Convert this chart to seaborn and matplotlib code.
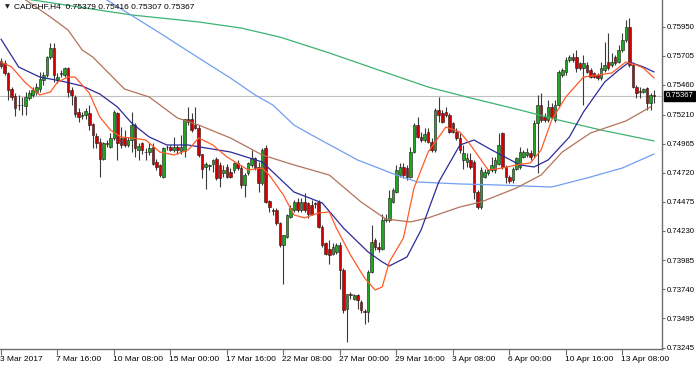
import matplotlib
matplotlib.use("Agg")
import matplotlib.pyplot as plt
import matplotlib.transforms as mtransforms
import numpy as np
import seaborn as sns

# ---------------- candle data (H4 bars, 3 Mar 2017 00:00 .. 14 Apr 2017) ----------------
open_p = [
    .75663, .75647, .75557, .75422, .75368, .75293, .75287, .75281, .75346, .75374,
    .75402, .75422, .75501, .75543, .75697, .75770, .75501, .75551, .75543, .75599,
    .75416, .75360, .75234, .75197, .75206, .75220, .75127, .75026, .74975, .74840,
    .74972, .74939, .75009, .75225, .75009, .75009, .74953, .74995, .75121, .74916,
    .74967, .74896, .74896, .74939, .74812, .74784, .74686, .74933, .74939, .74910,
    .74933, .74905, .74905, .75169, .75169, .75121, .75093, .74877, .74770, .74775,
    .74792, .74840, .74784, .74714, .74770,
    .74729, .74743, .74799, .74757, .74616, .74715, .74785, .74841, .74771, .74630,
    .74925, .74481, .74406, .74406, .74293, .74111, .74181, .74349, .74406, .74476,
    .74406, .74476, .74462, .74448, .74462, .74476, .74265, .74125, .74082, .74040,
    .74054, .74111, .73900, .73577, .73699, .73661, .73689, .73633, .73554, .73549,
    .73886, .74153, .74096, .74082, .74321, .74321, .74476, .74560, .74701, .74771,
    .74757, .74687, .74897, .75122, .75024, .74996, .75066, .74982, .74911, .75249,
    .75220, .75235, .75206, .75136, .75066,
    .75009, .74827, .74812, .74827, .74812, .74560, .74433, .74686, .74714, .74742,
    .74742, .74798, .75051, .74770, .74686, .74658, .74756, .74770, .74855, .74869,
    .74883, .74869, .75136, .75290, .75192, .75164, .75276, .75164, .75290, .75543,
    .75571, .75670, .75698, .75698, .75641, .75599, .75627, .75585, .75557, .75543,
    .75515, .75585, .75655, .75627, .75698, .75655, .75754, .75838, .75951, .75627,
    .75445, .75411, .75403, .75431, .75304, .75379,
]
high_p = [
    .75683, .75669, .75571, .75444, .75388, .75374, .75360, .75402, .75416, .75439,
    .75472, .75571, .75571, .75703, .75810, .75815, .75557, .75585, .75613, .75613,
    .75439, .75374, .75262, .75234, .75262, .75290, .75135, .75051, .75009, .74981,
    .74995, .75051, .75248, .75234, .75107, .75079, .75023, .75234, .75135, .74967,
    .74981, .74925, .74967, .74967, .74840, .74798, .74939, .74953, .74953, .75023,
    .74953, .75037, .75177, .75276, .75220, .75270, .75121, .74882, .74812, .74798,
    .74840, .74854, .74812, .74784, .74798,
    .74757, .74813, .74827, .74785, .74715, .74813, .74911, .74855, .74813, .74925,
    .74954, .74490, .74420, .74420, .74307, .74200, .74377, .74448, .74490, .74504,
    .74504, .74546, .74476, .74490, .74476, .74490, .74279, .74139, .74153, .74125,
    .74125, .74139, .73914, .73703, .73717, .73703, .73703, .73647, .73577, .73900,
    .74279, .74167, .74139, .74377, .74377, .74574, .74588, .74785, .74799, .74799,
    .74785, .74939, .75136, .75192, .75066, .75094, .75094, .75010, .75263, .75361,
    .75249, .75277, .75220, .75150, .75094,
    .75051, .74953, .74883, .74883, .74827, .74574, .74770, .74756, .74756, .74855,
    .74855, .75051, .75065, .74784, .74700, .74770, .74855, .74939, .74911, .74925,
    .74911, .75164, .75374, .75389, .75220, .75332, .75304, .75332, .75585, .75599,
    .75698, .75712, .75726, .75754, .75655, .75712, .75655, .75599, .75571, .75557,
    .75655, .75824, .75894, .75726, .75712, .75796, .75894, .76007, .76021, .75655,
    .75459, .75445, .75431, .75440, .75389, .75416,
]
low_p = [
    .75599, .75543, .75332, .75332, .75197, .75248, .75206, .75206, .75332, .75360,
    .75374, .75402, .75458, .75529, .75675, .75486, .75478, .75529, .75523, .75360,
    .75290, .75191, .75149, .75177, .75177, .75079, .74925, .74925, .74686, .74826,
    .74939, .74925, .74995, .74826, .74925, .74939, .74939, .74896, .74854, .74826,
    .74882, .74826, .74868, .74784, .74742, .74686, .74672, .74910, .74905, .74896,
    .74882, .74877, .74854, .75121, .75065, .75085, .74854, .74672, .74587, .74742,
    .74728, .74658, .74601, .74686, .74672,
    .74673, .74715, .74743, .74588, .74518, .74701, .74771, .74743, .74560, .74616,
    .74462, .74392, .74363, .74279, .74096, .73787, .74167, .74335, .74392, .74392,
    .74392, .74392, .74335, .74363, .74420, .74251, .74096, .74026, .73956, .74026,
    .74040, .73745, .73535, .73296, .73661, .73647, .73577, .73535, .73450, .73464,
    .73872, .74068, .74054, .74068, .74307, .74307, .74462, .74546, .74687, .74673,
    .74658, .74673, .74883, .75010, .74982, .74982, .74968, .74897, .74897, .75150,
    .75136, .75192, .75052, .75052, .74996,
    .74883, .74756, .74770, .74756, .74503, .74419, .74419, .74672, .74700, .74728,
    .74714, .74784, .74756, .74630, .74630, .74630, .74742, .74756, .74841, .74855,
    .74827, .74855, .74714, .75150, .75150, .75150, .75178, .75150, .75276, .75529,
    .75543, .75655, .75655, .75571, .75585, .75290, .75557, .75515, .75515, .75501,
    .75501, .75571, .75585, .75613, .75627, .75641, .75740, .75824, .75613, .75431,
    .75346, .75346, .75389, .75248, .75248, .75307,
]
close_p = [
    .75619, .75562, .75416, .75360, .75262, .75287, .75293, .75354, .75394, .75416,
    .75439, .75506, .75543, .75697, .75767, .75543, .75529, .75557, .75599, .75402,
    .75374, .75214, .75186, .75206, .75239, .75121, .75037, .74967, .74840, .74967,
    .74961, .75009, .75228, .74967, .74953, .74953, .74995, .75121, .74925, .74944,
    .74910, .74891, .74925, .74798, .74770, .74700, .74925, .74939, .74916, .74939,
    .74910, .74933, .75169, .75149, .75079, .75093, .74868, .74756, .74798, .74784,
    .74826, .74672, .74672, .74742, .74686,
    .74687, .74799, .74757, .74616, .74701, .74799, .74841, .74757, .74630, .74911,
    .74476, .74434, .74397, .74293, .74111, .74195, .74363, .74420, .74476, .74406,
    .74476, .74406, .74377, .74377, .74453, .74265, .74111, .74040, .74026, .74096,
    .74111, .73900, .73563, .73703, .73689, .73689, .73647, .73563, .73549, .73886,
    .74139, .74096, .74077, .74321, .74330, .74504, .74574, .74743, .74771, .74701,
    .74687, .74897, .75122, .75024, .74996, .75043, .74982, .74911, .75249, .75206,
    .75150, .75206, .75066, .75066, .75010,
    .74911, .74883, .74841, .74770, .74560, .74433, .74742, .74728, .74742, .74784,
    .74827, .74953, .74770, .74686, .74652, .74756, .74841, .74897, .74897, .74897,
    .74855, .75136, .75290, .75164, .75164, .75276, .75192, .75290, .75571, .75585,
    .75670, .75698, .75670, .75599, .75599, .75641, .75571, .75529, .75529, .75515,
    .75599, .75627, .75599, .75655, .75641, .75754, .75838, .75951, .75627, .75445,
    .75389, .75403, .75425, .75304, .75374, .75367,
]

# ---------------- moving averages ----------------
ma_fast_x = [0, 3, 7, 11, 14, 16, 19, 21, 25, 28, 31, 34, 37, 41, 45, 49, 53, 56, 60, 64,
             70, 74, 76, 80, 83, 86, 90, 93, 95, 99, 103, 106, 108, 110, 114, 117, 121, 126,
             130, 133, 138, 142, 146, 150, 153, 156, 160, 165, 169, 173, 177, 180, 182, 185]
ma_fast_y = [.75653, .75611, .75476, .75375, .75400, .75484, .75526, .75526, .75392, .75190,
             .75080, .75021, .75013, .74996, .74895, .74870, .74912, .75013, .74954, .74853,
             .74744, .74760, .74701, .74533, .74365, .74340, .74382, .74390, .74255, .74028,
             .73834, .73733, .73759, .73969, .74171, .74592, .74895, .75105, .75063, .74954,
             .74744, .74760, .74786, .74803, .74912, .75164, .75358, .75526, .75543, .75560,
             .75653, .75627, .75602, .75518]
ma_mid_x = [0, 5, 11, 17, 23, 28, 33, 37, 42, 47, 53, 58, 65, 74, 83, 91, 97, 104, 108, 110,
            115, 119, 124, 130, 134, 139, 147, 151, 155, 161, 165, 171, 175, 178, 182, 185]
ma_mid_y = [.75846, .75611, .75526, .75493, .75451, .75383, .75274, .75139, .75021, .74954,
            .74954, .74929, .74895, .74811, .74558, .74466, .74255, .74053, .73969, .73935,
            .74011, .74238, .74642, .74954, .74996, .74912, .74786, .74769, .74828, .75021,
            .75232, .75484, .75585, .75653, .75611, .75569]
ma_slow_x = [0, 7, 14, 19, 23, 26, 35, 42, 50, 56, 65, 74, 83, 93, 102, 109, 116, 121, 130,
             136, 146, 153, 159, 167, 177, 184]
ma_slow_y = [.76318, .76175, .76032, .75922, .75754, .75695, .75425, .75358, .75181, .75122,
             .75013, .74870, .74786, .74701, .74474, .74331, .74306, .74340, .74432, .74474,
             .74592, .74701, .74895, .75055, .75156, .75274]
ma_100_x = [0, 30, 45, 56, 65, 72, 77, 83, 88, 101, 112, 118, 130, 141, 156, 166, 176, 185]
ma_100_y = [.76739, .76175, .75897, .75687, .75518, .75375, .75291, .75122, .75038, .74828,
            .74701, .74642, .74626, .74617, .74600, .74676, .74760, .74878]
ma_200_x = [0, 9, 22, 37, 56, 68, 79, 93, 107, 121, 133, 147, 158, 170, 185]
ma_200_y = [.76209, .76175, .76116, .76049, .75990, .75939, .75863, .75729, .75585, .75442,
            .75350, .75249, .75164, .75080, .74988]

y_ticks = [0.75950, 0.75705, 0.75460, 0.75210, 0.74965, 0.74720, 0.74475,
           0.74230, 0.73985, 0.73740, 0.73495, 0.73245]
x_tick_pos = [0, 16, 32, 48, 64, 80, 96, 112, 128, 144, 160, 176]
x_tick_labels = ["3 Mar 2017", "7 Mar 16:00", "10 Mar 08:00", "15 Mar 00:00",
                 "17 Mar 16:00", "22 Mar 08:00", "27 Mar 00:00", "29 Mar 16:00",
                 "3 Apr 08:00", "6 Apr 00:00", "10 Apr 16:00", "13 Apr 08:00"]
symbol = "CADCHF,H4"
last_ohlc = [0.75379, 0.75416, 0.75307, 0.75367]

# ---------------- drawing ----------------
sns.set_theme(style="white")
plt.rcParams['font.family'] = ['Liberation Sans', 'DejaVu Sans']

fig = plt.figure(figsize=(6.96, 3.67), dpi=100)
ax = fig.add_axes([0, 18 / 367, 662 / 696, 349 / 367])

o = np.array(open_p); h = np.array(high_p); l = np.array(low_p); c = np.array(close_p)
idx = np.arange(len(c))
up = c >= o
ax.vlines(idx, l, h, color='#3a3a3a', lw=0.8, zorder=2)
body = np.maximum(np.abs(c - o), 0.00002)
ax.bar(idx[up], body[up], bottom=o[up], width=0.72, color='#22a322',
       edgecolor='#1a1a1a', lw=0.4, zorder=3)
ax.bar(idx[~up], body[~up], bottom=c[~up], width=0.72, color='#d10000',
       edgecolor='#1a1a1a', lw=0.4, zorder=3)

lines = [
    (ma_200_x, ma_200_y, '#3cb371'),
    (ma_100_x, ma_100_y, '#6f9ff0'),
    (ma_slow_x, ma_slow_y, '#b2735a'),
    (ma_mid_x, ma_mid_y, '#2b2b9a'),
    (ma_fast_x, ma_fast_y, '#ff5a28'),
]
for xs, ys, col in lines:
    sns.lineplot(x=xs, y=ys, ax=ax, color=col, lw=0.9, zorder=4)

ax.axhline(last_ohlc[3], color='#c0c0c0', lw=0.8, zorder=1)

ax.set_xlim(-0.28, 187.25)
ax.set_ylim(0.73236, 0.76175)

for s in ['left', 'top']:
    ax.spines[s].set_visible(False)
for s in ['right', 'bottom']:
    ax.spines[s].set_color('#6e6e6e')
    ax.spines[s].set_linewidth(1.0)

ax.yaxis.tick_right()
ax.set_yticks(y_ticks)
ax.set_yticklabels([f"{v:.5f}" for v in y_ticks])
ax.tick_params(axis='y', which='both', right=True, left=False, direction='out',
               length=2.5, width=0.8, color='#6e6e6e', labelsize=5.6, pad=1.0,
               labelcolor='#000000')
ax.set_xticks(x_tick_pos)
ax.set_xticklabels(x_tick_labels, ha='left')
ax.tick_params(axis='x', which='both', bottom=True, direction='out', length=4,
               width=0.8, color='#6e6e6e', labelsize=6, pad=1, labelcolor='#000000')
for lab in ax.get_xticklabels():
    lab.set_transform(lab.get_transform() + mtransforms.ScaledTranslation(-1 / 100, 0, fig.dpi_scale_trans))
ax.set_xlabel('')
ax.set_ylabel('')
ax.grid(False)

# current price tag
trans = mtransforms.blended_transform_factory(ax.transAxes, ax.transData)
ax.text(1.0 + 3.5 / 662, last_ohlc[3], f"{last_ohlc[3]:.5f}", transform=trans,
        color='white', fontsize=5.6, va='center', ha='left', zorder=6,
        bbox=dict(boxstyle='square,pad=0.2', fc='black', ec='black'), clip_on=False)

# header
fig.text(5 / 696, 1 - 7 / 367, "\u25BC", fontsize=4.5, va='center', ha='left',
         color='#202020', family='DejaVu Sans')
fig.text(14 / 696, 1 - 7 / 367,
         symbol + "  " + " ".join(f"{v:.5f}" for v in last_ohlc),
         fontsize=6, va='center', ha='left', color='#000000')

fig.savefig("out.png", dpi=100)
